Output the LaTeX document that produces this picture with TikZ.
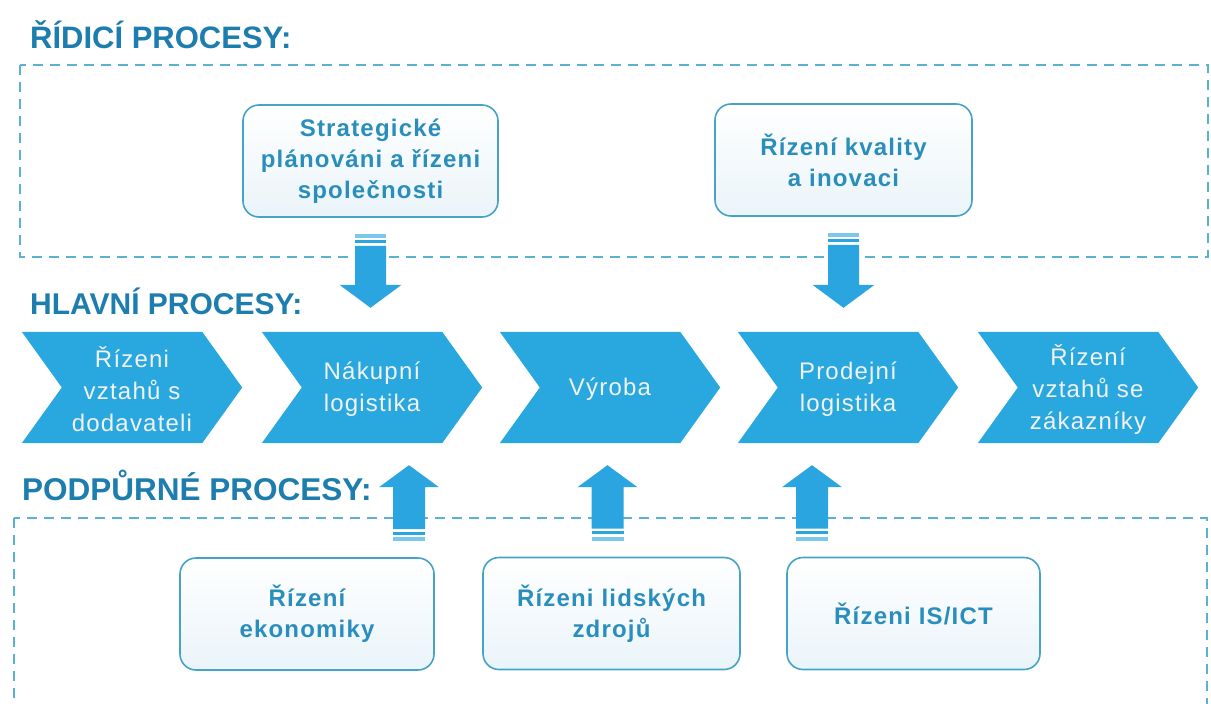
\documentclass[tikz,border=0pt]{standalone}
\usepackage{fontspec}
\setmainfont{Liberation Sans}
\newfontfamily\labelfont[LetterSpace=5]{Liberation Sans}
\newfontfamily\chevfont[LetterSpace=5]{Liberation Sans}
\usetikzlibrary{calc,backgrounds}

\definecolor{headblue}{HTML}{1C7DAE}
\definecolor{boxtextblue}{HTML}{2A8EBD}
\definecolor{boxlineblue}{HTML}{45A3C8}
\definecolor{boxfillblue}{HTML}{EAF4F9}
\definecolor{chevblue}{HTML}{29A8E0}
\definecolor{chevwhite}{HTML}{F2F2F2}
\definecolor{dashblue}{HTML}{5BB0D3}
\definecolor{arrowblue}{HTML}{2AA5DF}
\definecolor{arrowpale}{HTML}{7CC8EC}

\tikzset{
  heading/.style={anchor=base west, inner sep=0pt, text=headblue,
    font=\bfseries\fontsize{31pt}{31pt}\selectfont},
  procbox/.style={draw=boxlineblue, line width=1.6pt, rounded corners=16pt,
    top color=white, bottom color=boxfillblue, text=boxtextblue,
    align=center, inner sep=0pt, minimum height=112pt,
    font=\labelfont\bfseries\fontsize{24pt}{31pt}\selectfont},
  chevtext/.style={text=chevwhite, align=center, inner sep=0pt,
    minimum width=220pt, minimum height=111pt,
    font=\chevfont\fontsize{24pt}{32pt}\selectfont},
  dashframe/.style={draw=dashblue, line width=1.8pt, dash pattern=on 10pt off 7pt},
  chevshape/.style={fill=chevblue},
  blockfill/.style={fill=arrowblue},
  blockpale/.style={fill=arrowpale},
}

% striped block arrow pointing down: #1 = top of the stripes, #2 = level of the tip
\newcommand\downblock[2]{%
  \fill[blockpale] let \p1=(#1) in (\x1-15.5pt,\y1) rectangle (\x1+15.5pt,\y1-4pt);
  \fill[blockfill] let \p1=(#1) in (\x1-15.5pt,\y1-6.5pt) rectangle (\x1+15.5pt,\y1-9.5pt);
  \fill[blockfill] let \p1=(#1), \p2=(#2) in
    (\x1-15.5pt,\y1-12pt) -- (\x1+15.5pt,\y1-12pt) -- (\x1+15.5pt,\y2+23pt)
    -- (\x1+31pt,\y2+23pt) -- (\x1,\y2) -- (\x1-31pt,\y2+23pt)
    -- (\x1-15.5pt,\y2+23pt) -- cycle;
}
% striped block arrow pointing up: #1 = bottom of the stripes, #2 = level of the tip
\newcommand\upblock[2]{%
  \fill[blockpale] let \p1=(#1) in (\x1-16pt,\y1) rectangle (\x1+16pt,\y1+4pt);
  \fill[blockfill] let \p1=(#1) in (\x1-16pt,\y1+6.5pt) rectangle (\x1+16pt,\y1+9.5pt);
  \fill[blockfill] let \p1=(#1), \p2=(#2) in
    (\x1-16pt,\y1+12pt) -- (\x1+16pt,\y1+12pt) -- (\x1+16pt,\y2-22pt)
    -- (\x1+30pt,\y2-22pt) -- (\x1,\y2) -- (\x1-30pt,\y2-22pt)
    -- (\x1-16pt,\y2-22pt) -- cycle;
}

\begin{document}
\begin{tikzpicture}[x=1pt,y=-1pt]
\useasboundingbox (0,0) rectangle (1211,704);

% dashed group frames
\begin{scope}
  \clip (0,0) rectangle (1211,704);
  \draw[dashframe] (20,65) rectangle (1208,257);
  \draw[dashframe] (14,518) rectangle (1207,722);
\end{scope}

% section headings
\node[heading] (hridici) at (30,48) {ŘÍDICÍ PROCESY:};
\node[heading, font=\bfseries\fontsize{30pt}{30pt}\selectfont] (hhlavni) at (30,314) {HLAVNÍ PROCESY:};
\node[heading, font=\bfseries\fontsize{31.5pt}{31.5pt}\selectfont] (hpodp) at (22,500) {PODPŮRNÉ PROCESY:};

% management processes
\node[procbox, minimum width=255pt] (strat) at (370.5,161) {Strategické\\plánováni a řízeni\\společnosti};
\node[procbox, minimum width=257pt] (kval) at (843.5,160) {Řízení kvality\\a inovaci};

% main process chain
\node[chevtext] (c1) at (132,389) {Řízeni\\vztahů s\\dodavateli};
\node[chevtext] (c2) at (372,389) {Nákupní\\logistika};
\node[chevtext] (c3) at (610,389) {Výroba};
\node[chevtext] (c4) at (848,389) {Prodejní\\logistika};
\node[chevtext] (c5) at (1088,389) {Řízení\\vztahů se\\zákazníky};

\begin{scope}[on background layer]
  \fill[white] (0,0) rectangle (1211,704);
  \foreach \n in {1,...,5}
    \fill[chevshape] ($(c\n.north west)+(0,-1.5)$) -- ($(c\n.north east)+(-40,-1.5)$)
      -- ($(c\n.east)+(0,-1.5)$) -- ($(c\n.south east)+(-40,-1.5)$)
      -- ($(c\n.south west)+(0,-1.5)$) -- ($(c\n.west)+(40,-1.5)$) -- cycle;
\end{scope}

% support processes
\node[procbox, minimum width=254pt] (ekon) at (307,614) {Řízení\\ekonomiky};
\node[procbox, minimum width=257pt] (lidi) at (611.5,613.5) {Řízeni lidských\\zdrojů};
\node[procbox, minimum width=253pt] (ict) at (913.5,613.5) {Řízeni IS/ICT};

% block arrows between the levels
\coordinate (d1s) at ($(strat.south)+(0,16)$);
\coordinate (d1t) at ($(c2.north)+(0,-25.5)$);
\coordinate (d2s) at ($(kval.south)+(0,16)$);
\coordinate (d2t) at ($(c4.north)+(0,-25.5)$);
\downblock{d1s}{d1t}
\downblock{d2s}{d2t}

\coordinate (u1s) at ($(ekon.north)+(102,-16)$);
\coordinate (u1t) at ($(c2.south)+(0,20.5)$);
\coordinate (u2s) at ($(lidi.north)+(-4,-16)$);
\coordinate (u2t) at ($(c3.south)+(0,20.5)$);
\coordinate (u3s) at ($(ict.north)+(-101.5,-16)$);
\coordinate (u3t) at ($(c4.south)+(0,20.5)$);
\upblock{u1s}{u1t}
\upblock{u2s}{u2t}
\upblock{u3s}{u3t}
\end{tikzpicture}
\end{document}
